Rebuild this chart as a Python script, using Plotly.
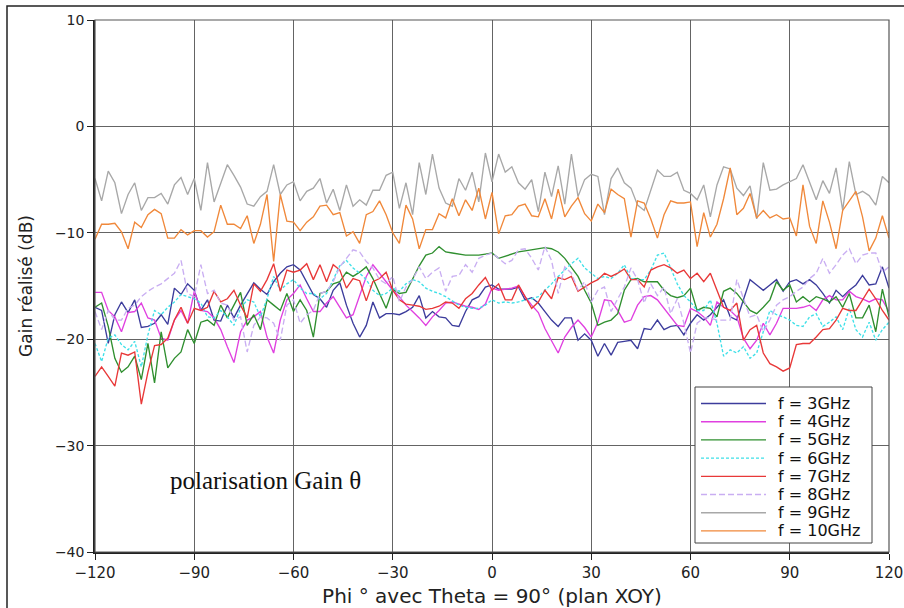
import plotly.graph_objects as go

phi = list(range(-120, 121, 2))

g3 = [-17.0, -17.3, -20.4, -17.7, -16.5, -17.5, -16.3, -18.9, -18.8, -18.5, -17.7, -18.6, -15.2, -15.8, -14.8, -15.4, -17.3, -16.3, -18.2, -18.3,
      -16.8, -18.0, -16.8, -15.7, -14.7, -15.3, -15.8, -14.6, -13.8, -13.2, -13.0, -13.5, -14.6, -15.8, -16.2, -17.0, -15.4, -14.7, -16.8, -18.5,
      -19.8, -18.7, -16.5, -18.0, -17.6, -17.6, -17.7, -17.4, -17.0, -15.9, -18.0, -17.4, -17.9, -18.0, -18.7, -18.8, -17.4, -16.3, -16.0, -15.1,
      -14.9, -15.3, -15.3, -15.3, -15.1, -16.3, -16.1, -16.6, -17.4, -18.2, -18.8, -18.0, -18.0, -20.1, -19.5, -20.1, -21.6, -20.4, -21.5, -20.3,
      -20.2, -20.1, -20.9, -19.0, -19.1, -18.2, -19.1, -18.8, -18.7, -19.6, -18.5, -17.7, -18.2, -17.7, -17.0, -16.3, -17.9, -18.2, -16.3, -14.4,
      -14.9, -15.4, -14.9, -14.4, -15.5, -14.6, -14.4, -14.8, -14.4, -14.9, -15.7, -16.6, -15.4, -16.0, -15.4, -14.9, -14.0, -14.9, -14.8, -13.2, -15.2]

g4 = [-15.6, -15.6, -17.3, -17.9, -19.3, -17.5, -17.4, -16.6, -18.0, -18.2, -19.9, -20.1, -18.2, -17.3, -18.5, -15.5, -17.3, -17.4, -18.0, -19.1,
      -20.7, -22.2, -19.3, -18.2, -17.9, -17.4, -19.8, -21.3, -18.2, -16.3, -15.7, -14.9, -16.2, -17.4, -17.4, -16.6, -16.0, -17.0, -18.0, -17.7,
      -16.0, -14.1, -13.0, -13.8, -14.6, -15.4, -16.0, -16.8, -17.4, -18.0, -18.7, -17.9, -17.3, -16.6, -16.5, -16.7, -16.9, -17.0, -17.2, -16.7,
      -15.2, -15.4, -15.3, -15.2, -15.0, -16.0, -16.8, -17.5, -19.0, -20.2, -21.3, -19.8, -18.9, -18.2, -18.9, -19.8, -18.4, -16.3, -16.4, -17.3,
      -18.4, -18.2, -16.8, -16.0, -15.9, -16.3, -17.1, -17.9, -18.7, -18.8, -17.1, -17.4, -17.9, -18.7, -16.5, -17.0, -17.3, -17.9, -19.9, -20.9,
      -20.1, -18.5, -19.6, -18.5, -17.1, -17.1, -17.1, -17.0, -16.8, -17.3, -16.3, -15.9, -16.3, -16.3, -15.5, -16.0, -16.2, -16.5, -16.2, -16.3, -17.4]

g5 = [-17.0, -16.6, -18.8, -21.8, -23.1, -22.6, -21.6, -23.8, -20.4, -24.1, -19.3, -22.7, -21.8, -21.2, -19.1, -20.4, -18.4, -18.2, -18.7, -16.8,
      -18.0, -16.8, -15.6, -18.7, -17.7, -19.1, -16.3, -16.8, -17.3, -15.7, -17.4, -16.3, -17.3, -19.8, -15.7, -15.5, -14.8, -14.6, -13.7, -14.1,
      -13.7, -13.2, -14.3, -15.7, -17.1, -15.3, -15.7, -15.6, -14.4, -13.1, -12.1, -11.9, -11.3, -11.8, -11.9, -12.0, -12.1, -12.1, -12.1, -12.0,
      -11.9, -12.4, -12.2, -12.0, -11.8, -11.7, -11.6, -11.5, -11.4, -11.5, -11.8, -12.4, -13.2, -14.1, -15.4, -16.6, -18.7, -18.4, -18.2, -17.6,
      -15.4, -14.4, -14.3, -14.6, -14.6, -14.6, -15.4, -15.9, -16.1, -15.9, -15.2, -17.3, -17.0, -17.1, -17.9, -15.5, -15.2, -15.7, -16.5, -17.3,
      -17.6, -17.0, -16.3, -14.6, -15.4, -14.9, -16.5, -16.0, -16.5, -16.0, -16.2, -16.5, -16.0, -17.0, -15.7, -18.0, -18.0, -16.8, -19.3, -15.3, -17.9]

g6 = [-20.4, -22.1, -19.9, -19.6, -20.5, -21.0, -20.2, -22.6, -19.6, -17.3, -17.7, -17.0, -16.5, -15.8, -16.0, -16.2, -16.6, -17.9, -18.0, -17.3,
      -17.9, -18.7, -17.1, -16.3, -16.5, -17.9, -16.2, -14.1, -15.4, -14.8, -14.4, -15.2, -15.7, -15.7, -16.2, -15.7, -14.4, -13.1, -12.6, -13.3,
      -13.8, -14.4, -15.4, -15.9, -15.7, -15.2, -15.5, -14.8, -14.4, -14.6, -15.2, -15.5, -15.7, -16.0, -16.4, -16.8, -17.0, -17.1, -17.1, -16.8,
      -16.3, -16.6, -16.5, -16.6, -16.5, -16.3, -16.2, -16.0, -15.4, -14.8, -14.1, -13.5, -12.9, -12.4, -13.3, -13.8, -14.3, -14.1, -14.3, -13.8,
      -13.0, -14.3, -14.4, -14.4, -13.5, -12.1, -11.9, -13.3, -14.8, -15.9, -16.5, -17.3, -17.3, -16.3, -18.5, -21.6, -21.0, -21.3, -20.7, -21.8,
      -21.3, -19.3, -17.3, -17.7, -17.9, -18.2, -18.7, -18.8, -17.9, -17.6, -18.8, -18.4, -17.9, -19.1, -17.1, -19.1, -19.8, -18.4, -20.1, -19.1, -18.4]

g7 = [-23.5, -22.6, -23.5, -24.4, -21.3, -21.5, -21.2, -26.1, -23.1, -20.6, -20.5, -19.9, -18.2, -17.0, -18.5, -17.1, -17.3, -17.0, -15.5, -16.5,
      -16.2, -15.4, -16.8, -18.0, -14.8, -15.5, -14.4, -12.9, -15.5, -13.5, -13.7, -13.5, -12.9, -14.4, -13.0, -14.6, -13.0, -13.5, -15.2, -14.3,
      -14.5, -16.4, -14.6, -14.3, -13.7, -15.4, -16.3, -16.7, -16.8, -16.9, -17.2, -17.1, -16.9, -16.5, -16.6, -17.1, -16.2, -15.7, -14.9, -14.2,
      -15.4, -14.8, -16.3, -16.3, -14.9, -16.0, -17.1, -16.5, -15.4, -16.2, -14.2, -14.4, -14.1, -15.5, -15.1, -14.7, -14.4, -13.8, -14.1, -13.8,
      -13.4, -14.4, -14.4, -15.1, -13.5, -13.2, -13.0, -13.3, -13.8, -13.5, -14.3, -13.8, -14.6, -13.8, -15.4, -17.0, -17.3, -16.6, -20.1, -19.1,
      -18.7, -21.3, -22.3, -22.6, -23.0, -22.7, -20.5, -20.4, -20.4, -19.8, -19.1, -19.0, -18.2, -17.1, -17.3, -17.3, -16.3, -15.3, -16.2, -17.3, -18.2]

g8 = [-17.4, -19.1, -17.3, -18.2, -18.2, -17.1, -16.8, -16.0, -15.5, -15.1, -14.8, -14.3, -13.8, -12.6, -15.7, -16.0, -13.0, -15.7, -15.4, -16.6,
      -16.8, -18.2, -17.9, -21.2, -18.7, -17.9, -18.0, -18.5, -20.1, -16.8, -16.3, -18.5, -17.7, -17.3, -15.7, -15.5, -14.6, -13.2, -12.4, -11.6,
      -11.8, -12.7, -13.3, -14.4, -14.8, -14.1, -16.5, -15.1, -14.4, -13.2, -14.3, -13.7, -13.3, -15.5, -14.1, -14.0, -13.0, -13.7, -12.4, -12.1,
      -11.9, -12.4, -12.9, -12.6, -11.6, -11.5, -12.4, -13.5, -11.3, -12.6, -15.7, -13.2, -13.8, -15.4, -14.6, -16.5, -15.4, -15.1, -17.4, -16.2,
      -15.1, -13.3, -14.4, -16.6, -14.8, -15.9, -15.1, -17.6, -16.2, -18.5, -21.3, -18.5, -18.0, -18.0, -18.2, -18.2, -18.2, -14.4, -16.2, -17.9,
      -17.7, -19.3, -18.2, -16.8, -16.3, -16.0, -15.5, -15.1, -14.3, -13.8, -12.4, -13.8, -13.0, -12.1, -11.5, -12.9, -12.1, -11.9, -11.9, -13.7, -13.2]

g9 = [-4.9, -7.0, -4.2, -5.3, -8.2, -6.4, -5.3, -7.9, -6.7, -6.7, -6.3, -7.3, -5.5, -4.8, -6.4, -4.9, -7.9, -3.4, -7.1, -5.3,
      -3.6, -4.6, -5.7, -7.3, -7.5, -6.6, -6.1, -3.6, -6.4, -5.5, -5.2, -7.0, -6.1, -5.8, -4.9, -7.2, -5.9, -7.9, -5.5, -7.5, -6.9,
      -7.4, -6.0, -6.0, -4.6, -4.3, -7.7, -5.3, -8.3, -3.4, -6.4, -2.6, -5.8, -7.2, -7.5, -4.9, -6.0, -4.3, -7.1, -2.5, -5.2,
      -2.6, -4.3, -3.8, -5.3, -5.9, -5.0, -8.0, -4.3, -6.6, -3.7, -7.3, -2.6, -6.6, -5.0, -4.5, -4.7, -8.3, -4.9, -3.9,
      -5.3, -5.8, -7.4, -7.9, -6.0, -4.1, -4.7, -4.7, -4.3, -6.0, -6.3, -6.9, -5.5, -8.5, -5.5, -3.8, -4.0, -5.8, -6.5, -5.6,
      -8.7, -3.4, -6.0, -5.9, -5.5, -5.2, -4.9, -3.6, -5.3, -6.9, -5.1, -6.3, -3.9, -7.9, -3.3, -6.4, -6.1, -6.5, -7.4, -4.7, -5.3]

g10 = [-10.6, -9.2, -9.2, -9.1, -9.9, -11.5, -9.0, -9.5, -8.3, -7.8, -8.2, -10.5, -10.5, -9.7, -10.2, -9.8, -9.8, -10.4, -9.9, -7.4,
       -9.2, -9.2, -9.6, -8.4, -11.0, -9.2, -6.4, -12.7, -6.4, -8.9, -9.0, -9.8, -9.0, -8.5, -7.5, -7.4, -8.3, -8.1, -10.3, -9.9, -11.0,
       -8.3, -8.0, -7.0, -8.3, -10.0, -11.0, -7.4, -8.7, -11.5, -9.7, -9.7, -8.2, -8.6, -6.8, -8.4, -6.9, -7.9, -5.8, -8.7, -6.2,
       -10.1, -8.4, -8.3, -7.5, -7.3, -8.4, -8.5, -6.8, -8.7, -5.9, -8.5, -7.5, -6.7, -8.2, -8.9, -7.3, -8.1, -5.9, -6.4,
       -6.8, -10.4, -7.0, -7.2, -8.7, -10.5, -8.3, -7.0, -7.2, -7.2, -7.1, -11.3, -8.1, -10.4, -9.2, -6.8, -3.9, -8.3, -7.7, -6.3,
       -8.6, -7.9, -8.6, -8.3, -8.7, -8.6, -10.3, -5.5, -9.4, -11.0, -7.0, -9.0, -11.5, -7.9, -7.0, -6.1, -8.5, -11.7, -10.5, -8.4, -10.5]

series_names = ["f = 3GHz", "f = 4GHz", "f = 5GHz", "f = 6GHz", "f = 7GHz", "f = 8GHz", "f = 9GHz", "f = 10GHz"]
series_values = [g3, g4, g5, g6, g7, g8, g9, g10]
series_colors = ["#3c3c9c", "#e040e0", "#2f8f2f", "#3fe0e8", "#e83838", "#c9aef2", "#a8a8a8", "#f0883a"]
series_dash = ["solid", "solid", "solid", "3px,2px", "solid", "6px,3px", "solid", "solid"]

x_ticks = [-120, -90, -60, -30, 0, 30, 60, 90, 120]
y_ticks = [-40, -30, -20, -10, 0, 10]

def lab(v):
    return ("\u2212" + str(abs(v))) if v < 0 else str(v)

fig = go.Figure()
for name, vals, col, dash in zip(series_names, series_values, series_colors, series_dash):
    fig.add_trace(go.Scatter(x=phi, y=vals, mode="lines", name=name, showlegend=False,
                             hoverinfo="skip",
                             line=dict(color=col, width=1.35, dash=dash)))

# page body margin is removed below, so figure pixels == page pixels
W, H = 904, 608
L, R, T, B = 95, 889, 20, 552   # plot box in pixels

def fx(p):  # pixel x -> paper
    return (p - L) / (R - L)

def fy(p):  # pixel y -> paper
    return (B - p) / (B - T)

fig.update_layout(
    width=W, height=H,
    margin=dict(l=L, r=W - R, t=T, b=H - B, pad=0, autoexpand=False),
    paper_bgcolor="white", plot_bgcolor="white",
    font=dict(family="DejaVu Sans", color="#222222"),
    showlegend=False,
    xaxis=dict(range=[-120, 120], tickvals=x_ticks, ticktext=[lab(v) for v in x_ticks],
               showgrid=True, gridcolor="#646464", gridwidth=1.2, automargin=False,
               showline=True, linecolor="#222222", linewidth=1.5, mirror=False,
               ticks="outside", ticklen=6, tickcolor="#222222", tickwidth=1.2,
               tickfont=dict(size=15, family="DejaVu Sans", color="#222222"),
               title=dict(text="Phi \u00b0 avec Theta = 90\u00b0 (plan XOY)",
                          font=dict(size=20, family="DejaVu Sans", color="#222222"), standoff=8),
               zeroline=False, showspikes=False),
    yaxis=dict(range=[-40, 10], tickvals=y_ticks, ticktext=[lab(v) for v in y_ticks],
               showgrid=True, gridcolor="#646464", gridwidth=1.2, automargin=False,
               showline=True, linecolor="#222222", linewidth=1.5,
               ticks="outside", ticklen=6, tickcolor="#222222", tickwidth=1.2,
               tickfont=dict(size=14, family="DejaVu Sans", color="#222222"),
               title=dict(text="Gain r\u00e9alis\u00e9 (dB)",
                          font=dict(size=17, family="DejaVu Sans", color="#222222"), standoff=18),
               zeroline=False, showspikes=False),
)

# plot frame top/right
fig.add_shape(type="rect", xref="paper", yref="paper", x0=0, x1=1, y0=0, y1=1,
              line=dict(color="#555555", width=1.2), layer="above")
# outer figure frame (left and top edges visible)
fig.add_shape(type="rect", xref="paper", yref="paper",
              x0=fx(7), x1=fx(930), y0=fy(640), y1=fy(6),
              line=dict(color="#222222", width=1.5), layer="above")

# legend box drawn by hand to match the reference layout
leg_x0, leg_x1, leg_y0, leg_y1 = 695, 872, 387, 543
fig.add_shape(type="rect", xref="paper", yref="paper",
              x0=fx(leg_x0), x1=fx(leg_x1), y0=fy(leg_y1), y1=fy(leg_y0),
              line=dict(color="#444444", width=1), fillcolor="white", layer="above")
for i, (name, col, dash) in enumerate(zip(series_names, series_colors, series_dash)):
    yy = 403.5 + 18.2 * i
    fig.add_shape(type="line", xref="paper", yref="paper",
                  x0=fx(701), x1=fx(766), y0=fy(yy), y1=fy(yy),
                  line=dict(color=col, width=1.35, dash=dash), layer="above")
    fig.add_annotation(x=fx(776), y=fy(yy), xref="paper", yref="paper",
                       xanchor="left", yanchor="middle", text=name, showarrow=False,
                       font=dict(family="DejaVu Sans", size=16, color="#111111"))

fig.add_annotation(x=fx(265), y=fy(480), xref="paper", yref="paper",
                   xanchor="center", yanchor="middle",
                   text="polarisation Gain \u03b8", showarrow=False,
                   font=dict(family="Liberation Serif", size=25, color="#111111"))

fig.write_html("out.html",
               config={"displayModeBar": False},
               post_script="document.body.style.margin='0px';document.body.style.overflow='hidden';")
